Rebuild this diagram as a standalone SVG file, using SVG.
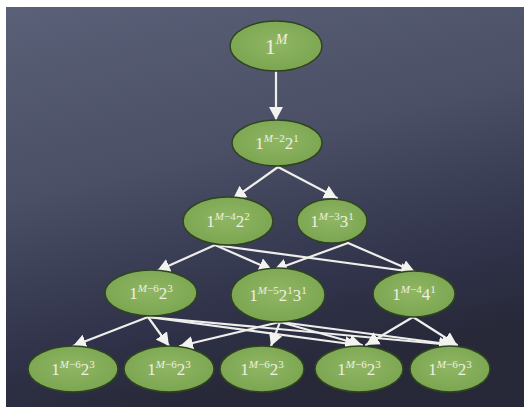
<svg xmlns="http://www.w3.org/2000/svg" width="524" height="414" viewBox="0 0 524 414">
<defs>
<linearGradient id="bg" x1="0" y1="0" x2="0.3" y2="1">
<stop offset="0" stop-color="#5a6077"/>
<stop offset="0.45" stop-color="#4a4f65"/>
<stop offset="0.8" stop-color="#30334a"/>
<stop offset="1" stop-color="#272939"/>
</linearGradient>
<radialGradient id="ng" cx="0.5" cy="0.45" r="0.6">
<stop offset="0" stop-color="#8fb663"/>
<stop offset="1" stop-color="#7aa450"/>
</radialGradient>
<marker id="ah" markerUnits="userSpaceOnUse" markerWidth="16" markerHeight="16" refX="13" refY="7" orient="auto">
<path d="M0,0 L13,7 L0,14 Z" fill="#f2f2ee"/>
</marker>
<style>
.node ellipse{fill:url(#ng);stroke:#2e4420;stroke-width:1.5}
.node text{font-family:"Liberation Serif","Times New Roman",serif;font-size:17px;fill:#eef0e0;text-anchor:middle}
.node .sup{font-size:11px}
.node .it{font-style:italic}
#edges line{stroke:#eeeeea;stroke-width:2.2;marker-end:url(#ah);stroke-linecap:round}
</style>
</defs>
<rect x="0" y="0" width="524" height="414" fill="#ffffff"/>
<rect x="6" y="7" width="518" height="400" fill="url(#bg)"/>
<g id="edges">
<line x1="276" y1="72" x2="276" y2="120"/>
<line x1="278" y1="167" x2="233" y2="199"/>
<line x1="278" y1="167" x2="337" y2="198"/>
<line x1="215" y1="245" x2="157" y2="271"/>
<line x1="215" y1="245" x2="272" y2="270"/>
<line x1="215" y1="245" x2="414" y2="272"/>
<line x1="348" y1="243" x2="274" y2="270"/>
<line x1="348" y1="243" x2="415" y2="272"/>
<line x1="148" y1="317" x2="73" y2="346"/>
<line x1="148" y1="317" x2="169" y2="346"/>
<line x1="148" y1="317" x2="358" y2="345"/>
<line x1="148" y1="317" x2="452" y2="345"/>
<line x1="280" y1="322" x2="180" y2="346"/>
<line x1="280" y1="322" x2="271" y2="346"/>
<line x1="280" y1="322" x2="362" y2="345"/>
<line x1="280" y1="322" x2="455" y2="345"/>
<line x1="413" y1="317" x2="366" y2="345"/>
<line x1="413" y1="317" x2="457" y2="345"/>
</g>
<g id="n0" class="node"><ellipse cx="276" cy="46" rx="46" ry="25"/><text x="276" y="54" style="font-size:22px"><tspan>1</tspan><tspan dy="-10" class="it" style="font-size:14px">M</tspan></text></g>
<g id="n1" class="node"><ellipse cx="277" cy="143" rx="45" ry="23"/><text x="277" y="149"><tspan>1</tspan><tspan dy="-7" class="sup"><tspan class="it">M</tspan>−2</tspan><tspan dy="7">2</tspan><tspan dy="-7" class="sup">1</tspan></text></g>
<g id="n2" class="node"><ellipse cx="228" cy="221" rx="45" ry="24"/><text x="228" y="227"><tspan>1</tspan><tspan dy="-7" class="sup"><tspan class="it">M</tspan>−4</tspan><tspan dy="7">2</tspan><tspan dy="-7" class="sup">2</tspan></text></g>
<g id="n3" class="node"><ellipse cx="332" cy="221" rx="35" ry="22"/><text x="332" y="227"><tspan>1</tspan><tspan dy="-7" class="sup"><tspan class="it">M</tspan>−3</tspan><tspan dy="7">3</tspan><tspan dy="-7" class="sup">1</tspan></text></g>
<g id="n4" class="node"><ellipse cx="151" cy="293" rx="46" ry="23"/><text x="151" y="299"><tspan>1</tspan><tspan dy="-7" class="sup"><tspan class="it">M</tspan>−6</tspan><tspan dy="7">2</tspan><tspan dy="-7" class="sup">3</tspan></text></g>
<g id="n5" class="node"><ellipse cx="278" cy="295" rx="47" ry="27"/><text x="278" y="301"><tspan>1</tspan><tspan dy="-7" class="sup"><tspan class="it">M</tspan>−5</tspan><tspan dy="7">2</tspan><tspan dy="-7" class="sup">1</tspan><tspan dy="7">3</tspan><tspan dy="-7" class="sup">1</tspan></text></g>
<g id="n6" class="node"><ellipse cx="414" cy="294" rx="41" ry="23"/><text x="414" y="300"><tspan>1</tspan><tspan dy="-7" class="sup"><tspan class="it">M</tspan>−4</tspan><tspan dy="7">4</tspan><tspan dy="-7" class="sup">1</tspan></text></g>
<g id="b1" class="node"><ellipse cx="73" cy="369" rx="45" ry="23"/><text x="73" y="375"><tspan>1</tspan><tspan dy="-7" class="sup"><tspan class="it">M</tspan>−6</tspan><tspan dy="7">2</tspan><tspan dy="-7" class="sup">3</tspan></text></g>
<g id="b2" class="node"><ellipse cx="169" cy="369" rx="45" ry="23"/><text x="169" y="375"><tspan>1</tspan><tspan dy="-7" class="sup"><tspan class="it">M</tspan>−6</tspan><tspan dy="7">2</tspan><tspan dy="-7" class="sup">3</tspan></text></g>
<g id="b3" class="node"><ellipse cx="262" cy="369" rx="42" ry="23"/><text x="262" y="375"><tspan>1</tspan><tspan dy="-7" class="sup"><tspan class="it">M</tspan>−6</tspan><tspan dy="7">2</tspan><tspan dy="-7" class="sup">3</tspan></text></g>
<g id="b4" class="node"><ellipse cx="359" cy="369" rx="44" ry="23"/><text x="359" y="375"><tspan>1</tspan><tspan dy="-7" class="sup"><tspan class="it">M</tspan>−6</tspan><tspan dy="7">2</tspan><tspan dy="-7" class="sup">3</tspan></text></g>
<g id="b5" class="node"><ellipse cx="450" cy="369" rx="40" ry="23"/><text x="450" y="375"><tspan>1</tspan><tspan dy="-7" class="sup"><tspan class="it">M</tspan>−6</tspan><tspan dy="7">2</tspan><tspan dy="-7" class="sup">3</tspan></text></g>
</svg>
